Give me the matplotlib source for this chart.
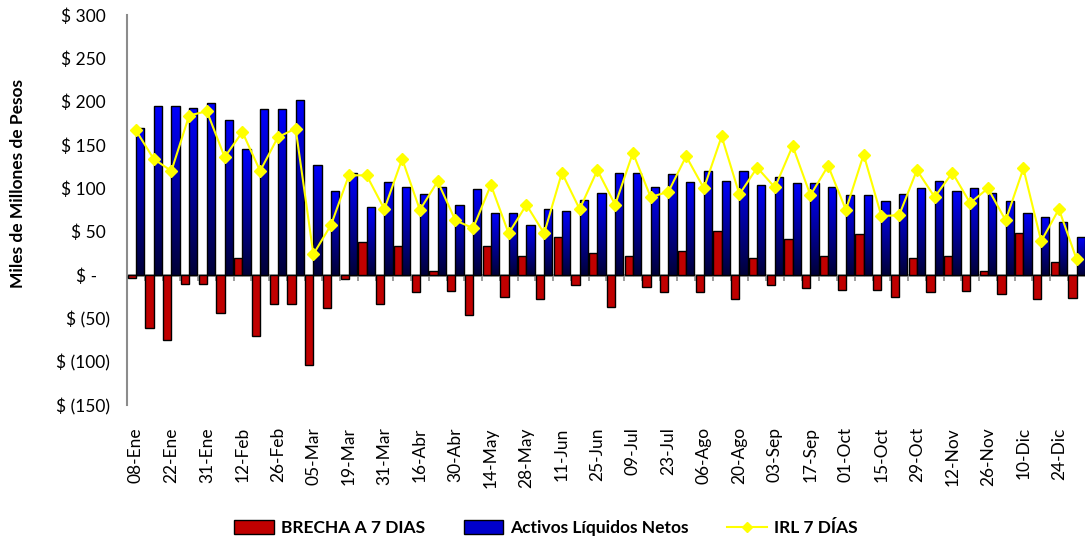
import numpy as np
import matplotlib
matplotlib.use("Agg")
import matplotlib.pyplot as plt
from matplotlib.colors import LinearSegmentedColormap
from matplotlib.patches import Patch
from matplotlib.lines import Line2D

plt.rcParams['font.family'] = ['Lato', 'DejaVu Sans']

# data
tick_labels = ['08-Ene', '22-Ene', '31-Ene', '12-Feb', '26-Feb', '05-Mar', '19-Mar',
               '31-Mar', '16-Abr', '30-Abr', '14-May', '28-May', '11-Jun', '25-Jun',
               '09-Jul', '23-Jul', '06-Ago', '20-Ago', '03-Sep', '17-Sep', '01-Oct',
               '15-Oct', '29-Oct', '12-Nov', '26-Nov', '10-Dic', '24-Dic']

brecha = [-3, -61, -75, -10, -10, -44, 20, -70, -33, -33, -104, -38, -5, 38,
          -33, 33, -20, 5, -19, -46, 33, -25, 22, -28, 44, -12, 25, -37,
          22, -14, -20, 28, -20, 51, -28, 20, -11, 42, -15, 22, -17, 47,
          -17, -25, 20, -20, 22, -19, 5, -22, 49, -28, 15, -26]

activos = [170, 195, 195, 193, 198, 179, 145, 191, 191, 202, 127, 97, 118, 78,
           107, 101, 94, 102, 81, 99, 71, 71, 58, 76, 74, 86, 95, 118,
           118, 102, 117, 107, 120, 109, 120, 104, 113, 106, 106, 102, 92, 92,
           85, 93, 100, 109, 97, 100, 95, 85, 72, 67, 61, 44]

irl = [167, 134, 120, 184, 189, 136, 165, 120, 159, 169, 24, 58, 115, 115,
       76, 134, 75, 108, 63, 54, 104, 48, 81, 48, 118, 76, 121, 81,
       141, 90, 96, 137, 100, 160, 93, 124, 101, 149, 92, 126, 75, 139,
       68, 69, 121, 90, 118, 83, 100, 63, 123, 39, 76, 18]

yticks = [300, 250, 200, 150, 100, 50, 0, -50, -100, -150]


def money(v):
    if v > 0:
        return f'$ {v} '
    if v == 0:
        return '$ -   '
    return f'$ ({-v})'


x = np.arange(len(activos))
w = 0.46

fig = plt.figure(figsize=(10.85, 5.41), dpi=100)
ax = fig.add_axes([127 / 1085, 1 - 405 / 541, 1 - 127 / 1085, 390 / 541])

red_bars = ax.bar(x - w / 2, brecha, width=w, color='#C00000',
                  edgecolor='black', linewidth=1, zorder=3)
blue_bars = ax.bar(x + w / 2, activos, width=w, color='none',
                   edgecolor='black', linewidth=1, zorder=4)

# vertical gradient fill for the blue bars
cmap = LinearSegmentedColormap.from_list('azul', ['#000038', '#0000FF'])
grad = np.linspace(0, 1, 128).reshape(-1, 1)
for b in blue_bars:
    x0 = b.get_x()
    im = ax.imshow(grad, extent=(x0, x0 + b.get_width(), 0, b.get_height()),
                   origin='lower', aspect='auto', cmap=cmap, zorder=3)
    im.set_clip_path(b)

ax.plot(x, irl, color='#FFFF00', linewidth=1.5, marker='D', markersize=6,
        zorder=5)

ax.set_xlim(-0.5, 53.47)
ax.set_ylim(-150, 300)

# axes styling
for s in ['top', 'right', 'bottom']:
    ax.spines[s].set_visible(False)
ax.spines['left'].set_color('#8C8C8C')
ax.spines['left'].set_linewidth(1.5)

ax.set_yticks(yticks)
ax.set_yticklabels([money(v) for v in yticks], fontsize=12.5)
ax.tick_params(axis='y', length=0, pad=12)

ax.set_xticks(x[::2])
ax.set_xticklabels(tick_labels, rotation=90, fontsize=12.5)
ax.tick_params(axis='x', length=0, pad=16)

# zero line with category tick marks
sec = ax.secondary_xaxis(150 / 450)
sec.set_xticks(np.arange(-0.5, 54, 1))
sec.set_xticklabels([])
sec.tick_params(axis='x', length=4, width=1.2, color='#8C8C8C')
sec.spines['bottom'].set_color('#8C8C8C')
sec.spines['bottom'].set_linewidth(1.8)
sec.spines['bottom'].set_zorder(6)

fig.text(18 / 1085, 1 - 184 / 541, 'Miles de Millones de Pesos', rotation=90,
         ha='center', va='center', fontsize=12.5, fontweight='bold')

handles = [Patch(facecolor='#C00000', edgecolor='black'),
           Patch(facecolor='#0000CC', edgecolor='black'),
           Line2D([0], [0], color='#FFFF00', linewidth=1.5, marker='D',
                  markersize=5)]
fig.legend(handles, ['BRECHA A 7 DIAS', 'Activos Líquidos Netos', 'IRL 7 DÍAS'],
           loc='center', bbox_to_anchor=(546 / 1085, 1 - 528 / 541), ncol=3,
           frameon=False, prop={'weight': 'bold', 'size': 12.5},
           handlelength=2.3, columnspacing=2.2, handletextpad=0.4,
           handleheight=0.9)

fig.savefig('out.png', dpi=100)
